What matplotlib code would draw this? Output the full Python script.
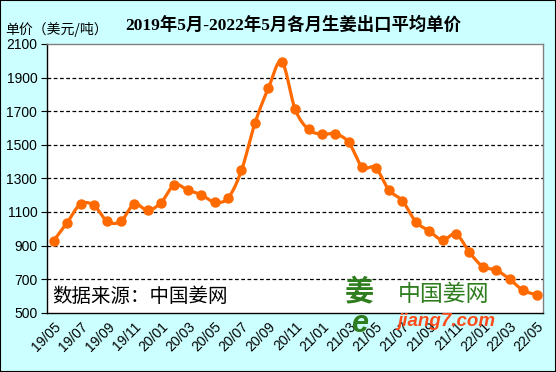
import numpy as np
import matplotlib
matplotlib.use("Agg")
import matplotlib.pyplot as plt

months = ["19/05","19/06","19/07","19/08","19/09","19/10","19/11","19/12",
          "20/01","20/02","20/03","20/04","20/05","20/06","20/07","20/08",
          "20/09","20/10","20/11","20/12","21/01","21/02","21/03","21/04",
          "21/05","21/06","21/07","21/08","21/09","21/10","21/11","21/12",
          "22/01","22/02","22/03","22/04","22/05"]
prices = [929, 1036, 1147, 1139, 1044, 1044, 1147, 1110, 1155, 1262, 1230, 1203,
          1159, 1183, 1347, 1627, 1835, 1995, 1712, 1591, 1563, 1565, 1514, 1367,
          1363, 1230, 1167, 1042, 987, 933, 969, 860, 775, 754, 700, 634, 608]
yticks = [500, 700, 900, 1100, 1300, 1500, 1700, 1900, 2100]

plt.rcParams['font.family'] = ['Liberation Sans', 'Noto Sans CJK SC']

fig = plt.figure(figsize=(5.56, 3.72), dpi=100, facecolor='#CCFFFF')
ax = fig.add_axes([0.0845, 0.159, 0.8925, 0.723])
ax.set_facecolor('white')

x = np.arange(len(prices))
y = np.array(prices, dtype=float)

# Excel-like smoothing (Bezier through data points)
def smooth(xs, ys, n=20):
    px = np.concatenate([[xs[0]], xs, [xs[-1]]])
    py = np.concatenate([[ys[0]], ys, [ys[-1]]])
    outx, outy = [], []
    t = np.linspace(0, 1, n, endpoint=False)
    for i in range(1, len(px) - 2):
        p0, p1, p2, p3 = (np.array([px[j], py[j]]) for j in range(i - 1, i + 3))
        c1 = p1 + (p2 - p0) / 6.0
        c2 = p2 - (p3 - p1) / 6.0
        for tt in t:
            b = ((1 - tt) ** 3) * p1 + 3 * ((1 - tt) ** 2) * tt * c1 + 3 * (1 - tt) * tt ** 2 * c2 + tt ** 3 * p2
            outx.append(b[0]); outy.append(b[1])
    outx.append(xs[-1]); outy.append(ys[-1])
    return np.array(outx), np.array(outy)

sx, sy = smooth(x.astype(float), y)
color = '#FF6A00'
ax.plot(sx, sy, color=color, lw=2.3, zorder=3, solid_capstyle='round')
ax.plot(x, y, 'o', color=color, ms=6.5, zorder=4)

ax.set_xlim(-0.5, 36.5)
ax.set_ylim(500, 2100)
ax.set_yticks(yticks)
ax.set_yticklabels([str(v) for v in yticks], fontsize=10)
for v in yticks[1:-1]:
    ax.axhline(v, color='black', lw=0.9, ls=(0, (3, 2)), zorder=1)

ax.set_xticks(x[::2])
ax.set_xticklabels(months[::2], rotation=45, ha='right', va='top',
                   rotation_mode='anchor', fontsize=10)
ax.tick_params(axis='x', length=0, pad=5)
ax.tick_params(axis='y', length=4, direction='out', color='black', pad=3)

for s in ['left', 'bottom']:
    ax.spines[s].set_color('black')
for s in ['top', 'right']:
    ax.spines[s].set_color('#808080')
for s in ax.spines.values():
    s.set_linewidth(1.0)

fig.text(0.527, 0.933, "2019年5月-2022年5月各月生姜出口平均单价",
         ha='center', va='center', fontsize=12.5, fontweight='bold',
         family=['Liberation Serif', 'Noto Sans CJK SC'])
fig.text(0.009, 0.921, "单价（美元/吨）", ha='left', va='center', fontsize=10,
         family=['Noto Sans CJK SC'])

ax.text(0.01, 0.06, "数据来源：中国姜网", transform=ax.transAxes, ha='left',
        va='center', fontsize=14, family=['Noto Sans CJK SC'], zorder=5)

# logo
fig.text(0.647, 0.218, "姜", ha='center', va='center', fontsize=21,
         color='#2E7D1E', fontweight='bold', family=['Noto Sans CJK SC'])
fig.text(0.647, 0.128, "e", ha='center', va='center', fontsize=22,
         color='#2E7D1E', fontweight='bold', style='italic',
         family=['Liberation Sans'], zorder=6)
fig.text(0.797, 0.207, "中国姜网", ha='center', va='center', fontsize=16.5,
         color='#2E7D1E', family=['Noto Sans CJK SC'])
fig.text(0.802, 0.135, "jiang7.com", ha='center', va='center', fontsize=13.5,
         color='#FF4A1A', fontweight='bold', style='italic',
         family=['Liberation Sans'], zorder=6)

# figure border
fig.patches.append(plt.Rectangle((0, 0), 1, 1, transform=fig.transFigure,
                                 fill=False, ec='black', lw=1.5))

fig.savefig("out.png", dpi=100, facecolor=fig.get_facecolor())
